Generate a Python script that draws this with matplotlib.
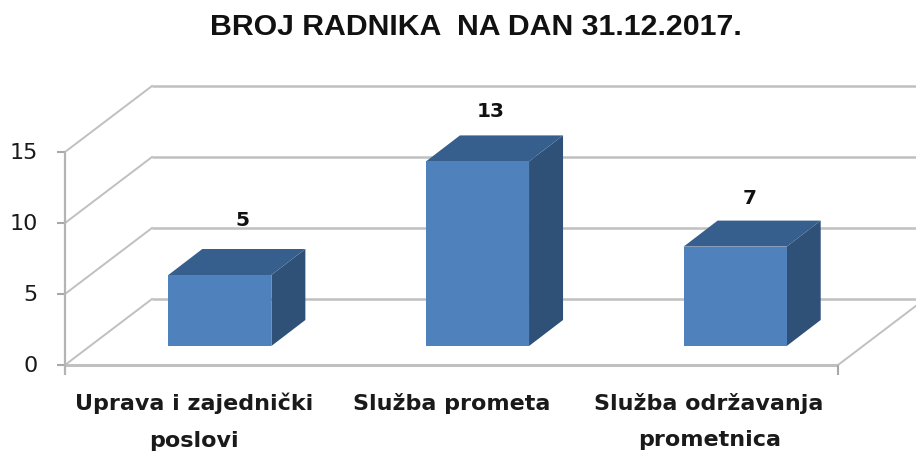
import matplotlib
matplotlib.use("Agg")
import matplotlib.pyplot as plt
from matplotlib.patches import Polygon
from matplotlib.lines import Line2D
from matplotlib.transforms import Affine2D

title = "BROJ RADNIKA  NA DAN 31.12.2017."
categories = ["Uprava i zajednički\nposlovi", "Služba prometa", "Služba održavanja\nprometnica"]
values = [5, 13, 7]
y_ticks = [0, 5, 10, 15]
label_shift_px = [(23, 55), (13, 50), (14, 48)]

W, H = 916, 457
fig = plt.figure(figsize=(W / 100, H / 100), dpi=100)
L, R, Y0, Y15 = 65, 838, 365, 152
ax = fig.add_axes([L / W, (H - Y0) / H, (R - L) / W, (Y0 - Y15) / H])
ax.set_xlim(-0.5, 2.5)
ax.set_ylim(0, 15)
ax.axis("off")

GRID = "#c0c0c0"
WALL = (87, 66)
BAR_OFF = (26, 19)
BAR_DEPTH = (34, 26)
BAR_W = 0.2


def shifted(dx, dy):
    return ax.transData + Affine2D().translate(dx, dy)


def line(xs, ys, tr, lw=1.5, color=GRID, z=1):
    ax.add_line(Line2D(xs, ys, transform=tr, color=color, lw=lw, clip_on=False, zorder=z,
                       solid_capstyle="butt"))


back = shifted(*WALL)
for t in y_ticks:
    line([-0.5, 2.8], [t, t], back, lw=1.8)
    p0 = ax.transData.transform((-0.5, t))
    p1 = back.transform((-0.5, t))
    ax.add_line(Line2D([p0[0], p1[0]], [p0[1], p1[1]], transform=None, color=GRID, lw=1.4,
                       clip_on=False, zorder=1))
    line([-0.53, -0.5], [t, t], ax.transData, lw=1.5, color="#a8a8a8", z=2)
    ax.annotate(str(t), xy=(-0.5, t), xytext=(-27, -1), textcoords="offset pixels", ha="right",
                va="center", fontsize=16, family="DejaVu Sans", color="#1a1a1a")

line([-0.5, 2.5], [0, 0], ax.transData, lw=2.2, z=2)
p0 = ax.transData.transform((2.5, 0))
p1 = back.transform((2.5, 0))
ax.add_line(Line2D([p0[0], p1[0]], [p0[1], p1[1]], transform=None, color=GRID, lw=1.4,
                   clip_on=False, zorder=1))
line([-0.5, -0.5], [-0.7, 15], ax.transData, lw=1.6, color="#b4b4b4", z=2)
line([2.5, 2.5], [-0.7, 0], ax.transData, lw=1.5, color="#a8a8a8", z=2)

front_tr = shifted(*BAR_OFF)
back_tr = shifted(BAR_OFF[0] + BAR_DEPTH[0], BAR_OFF[1] + BAR_DEPTH[1])

for i, (cat, v) in enumerate(zip(categories, values)):
    x0, x1 = i - BAR_W, i + BAR_W
    f00 = front_tr.transform((x0, 0))
    f10 = front_tr.transform((x1, 0))
    f01 = front_tr.transform((x0, v))
    f11 = front_tr.transform((x1, v))
    b10 = back_tr.transform((x1, 0))
    b01 = back_tr.transform((x0, v))
    b11 = back_tr.transform((x1, v))
    ax.add_patch(Polygon([f10, b10, b11, f11], closed=True, transform=None, fc="#2f5178", ec="none",
                         clip_on=False, zorder=3))
    ax.add_patch(Polygon([f01, f11, b11, b01], closed=True, transform=None, fc="#375f8d", ec="none",
                         clip_on=False, zorder=3))
    ax.add_patch(Polygon([f00, f10, f11, f01], closed=True, transform=None, fc="#4f81bd", ec="none",
                         clip_on=False, zorder=4))
    sx, sy = label_shift_px[i]
    ax.annotate(str(v), xy=(i, v), xycoords=front_tr, xytext=(sx, sy), textcoords="offset pixels",
                ha="center", va="center", fontsize=14.5, fontweight="bold", family="DejaVu Sans",
                color="#111111", zorder=5)
    ax.annotate(cat, xy=(i, 0), xycoords=ax.transData, xytext=(0, -28), textcoords="offset pixels",
                ha="center", va="top", fontsize=16, fontweight="bold", family="DejaVu Sans",
                color="#1a1a1a", linespacing=2.03)

fig.text(476 / W, (H - 27) / H, title, ha="center", va="center", fontsize=21.8, fontweight="bold",
         family="Liberation Sans", color="#111111")

fig.savefig("out.png", dpi=100)
